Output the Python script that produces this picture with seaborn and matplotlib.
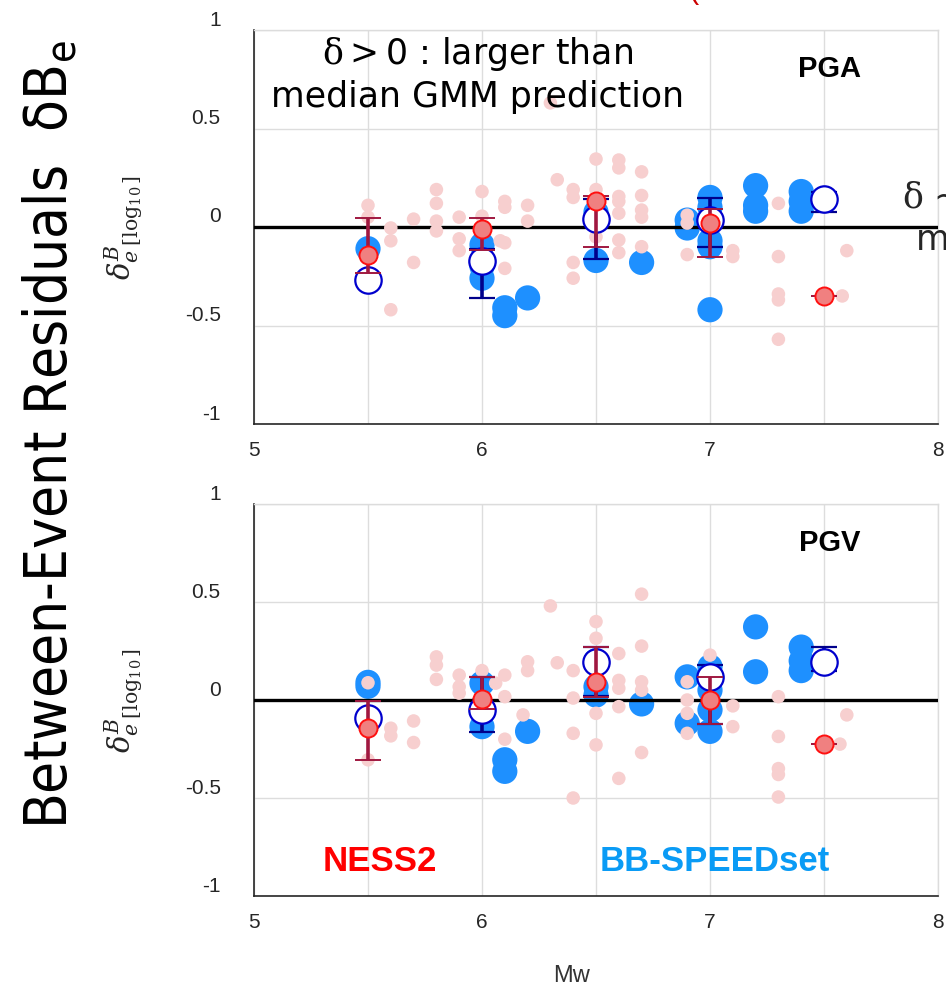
import numpy as np
import pandas as pd
import matplotlib
matplotlib.use("Agg")
import matplotlib.pyplot as plt
import matplotlib.transforms as mtransforms
import seaborn as sns

# ---------------- data ----------------
# NESS2 single-event residuals (PGA)
ness_pga_mw = [5.5, 5.5, 5.6, 5.6, 5.6, 5.7, 5.7, 5.8, 5.8, 5.8, 5.8, 5.9, 5.9, 5.9,
               6.0, 6.0, 6.0, 6.08, 6.1, 6.1, 6.1, 6.1, 6.2, 6.2, 6.3, 6.33,
               6.4, 6.4, 6.4, 6.4, 6.5, 6.5, 6.5,
               6.6, 6.6, 6.6, 6.6, 6.6, 6.6, 6.6, 6.7, 6.7, 6.7, 6.7, 6.7,
               6.9, 6.9, 6.9, 7.1, 7.1, 7.3, 7.3, 7.3, 7.3, 7.3, 7.58, 7.6]
ness_pga_res = [0.11, 0.05, -0.005, -0.07, -0.42, 0.04, -0.18, 0.19, 0.12, 0.03, -0.02, 0.05, -0.06, -0.12,
                0.18, 0.055, -0.15, -0.07, 0.13, 0.10, -0.08, -0.21, 0.11, 0.03, 0.63, 0.24,
                0.19, 0.15, -0.18, -0.26, 0.345, 0.19, -0.05,
                0.34, 0.30, 0.155, 0.13, 0.07, -0.066, -0.13, 0.28, 0.16, 0.086, 0.05, -0.10,
                0.06, 0.02, -0.14, -0.12, -0.15, 0.12, -0.15, -0.34, -0.37, -0.57, -0.35, -0.12]

# BB-SPEEDset single-event residuals (PGA)
bb_pga_mw = [5.5, 6.0, 6.0, 6.0, 6.1, 6.1, 6.2, 6.5, 6.5, 6.7, 6.9, 6.9,
             7.0, 7.0, 7.0, 7.0, 7.0, 7.2, 7.2, 7.2, 7.4, 7.4, 7.4]
bb_pga_res = [-0.11, -0.09, -0.20, -0.26, -0.41, -0.45, -0.36, 0.075, -0.17, -0.18, 0.035, -0.005,
              0.15, 0.10, -0.07, -0.10, -0.42, 0.21, 0.11, 0.08, 0.18, 0.13, 0.08]

# NESS2 single-event residuals (PGV)
ness_pgv_mw = [5.5, 5.5, 5.6, 5.6, 5.7, 5.7, 5.8, 5.8, 5.8, 5.9, 5.9, 5.9,
               6.0, 6.06, 6.1, 6.1, 6.1, 6.18, 6.2, 6.2, 6.3, 6.33,
               6.4, 6.4, 6.4, 6.4, 6.5, 6.5, 6.5, 6.5,
               6.6, 6.6, 6.6, 6.6, 6.6, 6.7, 6.7, 6.7, 6.7, 6.7,
               6.9, 6.9, 6.9, 6.9, 7.0, 7.1, 7.1, 7.3, 7.3, 7.3, 7.3, 7.3, 7.57, 7.6]
ness_pgv_res = [0.088, -0.305, -0.144, -0.183, -0.107, -0.217, 0.22, 0.178, 0.105, 0.127, 0.068, 0.035,
                0.15, 0.086, 0.127, 0.017, -0.20, -0.076, 0.195, 0.15, 0.48, 0.19,
                0.15, 0.01, -0.17, -0.50, 0.40, 0.315, -0.068, -0.229,
                0.237, 0.10, 0.06, -0.034, -0.40, 0.54, 0.275, 0.093, 0.05, -0.268,
                0.093, 0.0, -0.068, -0.17, 0.229, -0.03, -0.136, 0.017, -0.186, -0.35, -0.38, -0.495, -0.225, -0.076]

# BB-SPEEDset single-event residuals (PGV)
bb_pgv_mw = [5.5, 5.5, 6.0, 6.0, 6.0, 6.1, 6.1, 6.2, 6.5, 6.5, 6.5, 6.7, 6.9, 6.9,
             7.0, 7.0, 7.0, 7.0, 7.2, 7.2, 7.4, 7.4, 7.4]
bb_pgv_res = [0.09, 0.07, 0.086, -0.034, -0.136, -0.305, -0.364, -0.16, 0.20, 0.068, 0.025, -0.02, 0.118, -0.119,
              0.17, 0.05, -0.05, -0.16, 0.373, 0.144, 0.27, 0.20, 0.15]

# Magnitude-bin summaries: mean with lower / upper bounds
bin_mw = [5.5, 6.0, 6.5, 7.0, 7.5]

ness_pga_mean = [-0.14, -0.012, 0.134, 0.019, -0.349]
ness_pga_lo = [-0.235, -0.117, -0.10, -0.154, -0.349]
ness_pga_hi = [0.047, 0.044, 0.157, 0.09, -0.349]
bb_pga_mean = [-0.27, -0.173, 0.04, 0.036, 0.14]
bb_pga_lo = [-0.27, -0.362, -0.164, -0.10, 0.075]
bb_pga_hi = [-0.27, -0.11, 0.14, 0.146, 0.18]

ness_pgv_mean = [-0.144, 0.005, 0.09, 0.0, -0.224]
ness_pgv_lo = [-0.305, -0.047, 0.013, -0.122, -0.224]
ness_pgv_hi = [-0.003, 0.118, 0.271, 0.118, -0.224]
bb_pgv_mean = [-0.09, -0.05, 0.195, 0.115, 0.195]
bb_pgv_lo = [-0.09, -0.161, 0.02, -0.12, 0.15]
bb_pgv_hi = [-0.09, 0.118, 0.27, 0.178, 0.268]

x_ticks = [5, 5.5, 6, 6.5, 7, 7.5, 8]
x_ticklabels = ["5", "", "6", "", "7", "", "8"]
y_ticks = [-1, -0.5, 0, 0.5, 1]
y_ticklabels = ["-1", "-0.5", "0", "0.5", "1"]

# ---------------- style ----------------
sns.set_theme(style="white")
plt.rcParams["font.family"] = ["Liberation Sans", "DejaVu Sans"]
plt.rcParams["mathtext.fontset"] = "dejavuserif"

PINK = "#F7CFCF"
BLUE = "#1E90FF"
DARKRED = "#A01840"
NAVY = "#00008B"
RED = "#FF1010"

W, H = 946, 990
fig = plt.figure(figsize=(W / 100, H / 100), dpi=100)
ax_top = fig.add_axes([254 / W, 1 - 424 / H, 684 / W, 394 / H])
ax_bot = fig.add_axes([254 / W, 1 - 896 / H, 684 / W, 392 / H])


def draw_panel(ax, ness_mw, ness_res, bb_mw, bb_res,
               n_mean, n_lo, n_hi, b_mean, b_lo, b_hi, name):
    ax.set_xlim(5, 8)
    ax.set_ylim(-1, 1)
    ax.set_xticks(x_ticks)
    ax.set_xticklabels(x_ticklabels)
    ax.set_yticks(y_ticks)
    ax.set_yticklabels(y_ticklabels)
    ax.grid(True, color="#dddddd", lw=1.0)
    ax.set_axisbelow(True)
    for side in ("left", "bottom"):
        ax.spines[side].set_color("#262626")
        ax.spines[side].set_linewidth(1.2)
    for side in ("top", "right"):
        ax.spines[side].set_color("#dcdcdc")
        ax.spines[side].set_linewidth(1.0)
    ax.tick_params(axis="both", direction="in", length=5, width=1.0,
                   colors="#262626", labelsize=15, labelcolor="#262626")
    ax.tick_params(axis="y", pad=24)
    ax.tick_params(axis="x", pad=12)
    shift = mtransforms.ScaledTranslation(0, 0.12, fig.dpi_scale_trans)
    for lab in ax.get_yticklabels():
        lab.set_transform(lab.get_transform() + shift)

    ax.axhline(0, color="black", lw=2.4, zorder=3)

    sns.scatterplot(x=bb_mw, y=bb_res, ax=ax, s=330, color=BLUE,
                    edgecolor="none", linewidth=0, zorder=2, legend=False)
    sns.scatterplot(x=ness_mw, y=ness_res, ax=ax, s=95, color=PINK,
                    edgecolor="none", linewidth=0, zorder=4, legend=False)

    b_mean = np.array(b_mean)
    n_mean = np.array(n_mean)
    ax.errorbar(bin_mw, b_mean, yerr=[b_mean - np.array(b_lo), np.array(b_hi) - b_mean],
                fmt="o", ms=19, mfc="white", mec="#0000CD", mew=1.6,
                ecolor=NAVY, elinewidth=2.6, capsize=9.5, capthick=3.0, zorder=5)
    ax.errorbar(bin_mw, n_mean, yerr=[n_mean - np.array(n_lo), np.array(n_hi) - n_mean],
                fmt="o", ms=13, mfc="#F08080", mec=RED, mew=1.4,
                ecolor=DARKRED, elinewidth=2.6, capsize=9.5, capthick=3.0, zorder=6)

    ax.text(0.842, 0.9, name, transform=ax.transAxes, ha="center", va="center",
            fontsize=21, fontweight="bold", color="black")
    ax.set_ylabel(r"$\delta^{B}_{e\;[\log_{10}]}$", fontsize=21, color="#262626")
    ax.yaxis.set_label_coords(-0.16, 0.5)
    ax.set_xlabel("")


draw_panel(ax_top, ness_pga_mw, ness_pga_res, bb_pga_mw, bb_pga_res,
           ness_pga_mean, ness_pga_lo, ness_pga_hi,
           bb_pga_mean, bb_pga_lo, bb_pga_hi, "PGA")
draw_panel(ax_bot, ness_pgv_mw, ness_pgv_res, bb_pgv_mw, bb_pgv_res,
           ness_pgv_mean, ness_pgv_lo, ness_pgv_hi,
           bb_pgv_mean, bb_pgv_lo, bb_pgv_hi, "PGV")

# interpretation notes
note_font = ["DejaVu Sans"]
ax_top.text(0.3275, 0.887, "$\\mathrm{\\delta} > $0 : larger than\nmedian GMM prediction",
            transform=ax_top.transAxes, ha="center", va="center",
            fontsize=25, linespacing=1.25, color="black",
            family=note_font, zorder=7)
fig.text(902 / W, 1 - 198 / H, "$\\mathrm{\\delta}$ ~ 0 : close to", ha="left", va="center",
         fontsize=25, family=note_font)
fig.text(916 / W, 1 - 240 / H, "median GMM prediction", ha="left", va="center",
         fontsize=25, family=note_font)
fig.text(688 / W, 1 + 10 / H, "(", ha="left", va="center", fontsize=22,
         color="#CC0000")

# dataset legend in the lower panel
ax_bot.text(0.184, 0.087, "NESS2", transform=ax_bot.transAxes, ha="center",
            va="center", fontsize=25, fontweight="bold", color="#FF0000")
ax_bot.text(0.674, 0.087, "BB-SPEEDset", transform=ax_bot.transAxes, ha="center",
            va="center", fontsize=25, fontweight="bold", color="#0A9BF5")

ax_bot.set_xlabel("Mw", fontsize=17, color="#333333")
ax_bot.xaxis.set_label_coords(0.4635, -0.175)

# overall vertical title, scaled so it spans the figure height
big = fig.text(50 / W, 1 - 435 / H, "Between-Event Residuals  δB$_\\mathregular{e}$",
               rotation=90, ha="center", va="center", fontsize=50,
               family=["DejaVu Sans"], fontstretch="condensed", color="black")
fig.canvas.draw()
ext = big.get_window_extent(renderer=fig.canvas.get_renderer())
big.set_fontsize(50 * 790 / ext.height)

fig.savefig("out.png", dpi=100)
